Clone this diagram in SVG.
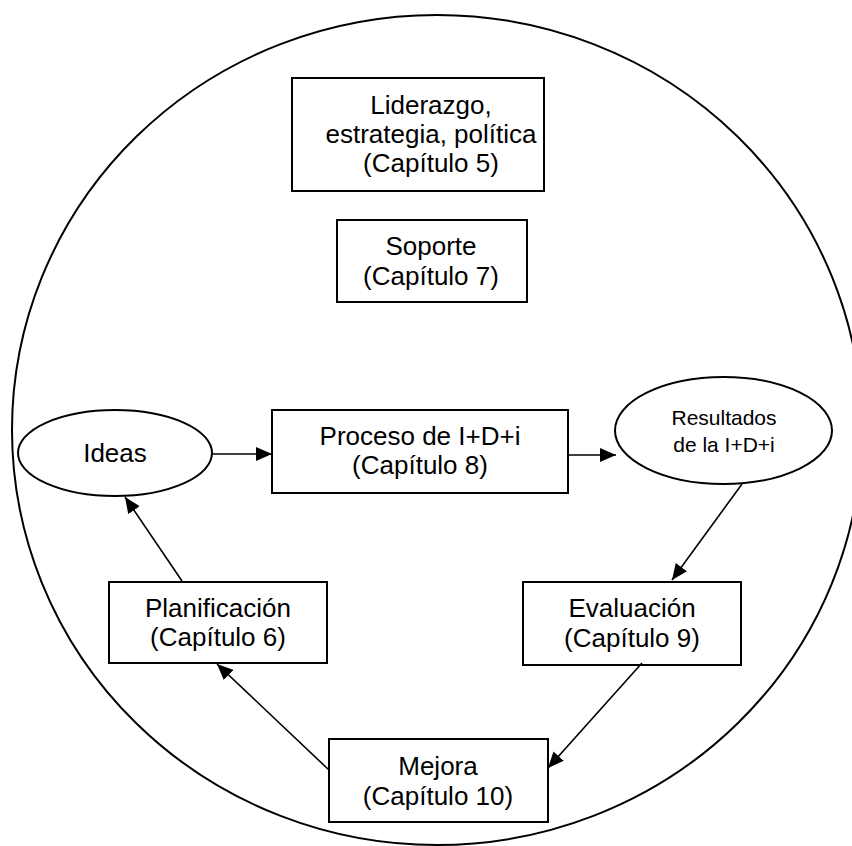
<svg xmlns="http://www.w3.org/2000/svg" width="852" height="846" viewBox="0 0 852 846">
<style>
.shape{fill:#fff;stroke:#000;stroke-width:2}
.frame{fill:none;stroke:#000;stroke-width:2}
.t{font-family:"Liberation Sans",Arial,sans-serif;font-size:26px;fill:#000;text-anchor:middle}
.ts{font-family:"Liberation Sans",Arial,sans-serif;font-size:21px;fill:#000;text-anchor:middle}
.c{stroke:#000;stroke-width:1.6;fill:none;marker-end:url(#ah)}
</style>
<defs>
<marker id="ah" viewBox="0 0 16 14" markerWidth="16" markerHeight="14" markerUnits="userSpaceOnUse" refX="16" refY="7" orient="auto">
<path d="M0,0 L16,7 L0,14 Z" fill="#000"/>
</marker>
</defs>
<rect width="852" height="846" fill="#fff"/>
<ellipse id="cycle" class="frame" cx="437" cy="430" rx="425" ry="415"/>
<g id="liderazgo">
<rect class="shape" x="292" y="78" width="252" height="113"/>
<text class="t" x="431" y="114">Liderazgo,</text>
<text class="t" x="431" y="143">estrategia, política</text>
<text class="t" x="431" y="172">(Capítulo 5)</text>
</g>
<g id="soporte">
<rect class="shape" x="337" y="220" width="190" height="82"/>
<text class="t" x="431" y="255">Soporte</text>
<text class="t" x="431" y="285">(Capítulo 7)</text>
</g>
<g id="ideas">
<ellipse class="shape" cx="115" cy="453" rx="97" ry="43"/>
<text class="t" x="115" y="462">Ideas</text>
</g>
<g id="proceso">
<rect class="shape" x="272" y="410" width="296" height="83"/>
<text class="t" x="420" y="445">Proceso de I+D+i</text>
<text class="t" x="420" y="474">(Capítulo 8)</text>
</g>
<g id="resultados">
<ellipse class="shape" cx="723.5" cy="430.5" rx="108.5" ry="53.5"/>
<text class="ts" x="724" y="425">Resultados</text>
<text class="ts" x="724" y="452">de la I+D+i</text>
</g>
<g id="evaluacion">
<rect class="shape" x="523" y="582" width="218" height="83"/>
<text class="t" x="632" y="617">Evaluación</text>
<text class="t" x="632" y="647">(Capítulo 9)</text>
</g>
<g id="mejora">
<rect class="shape" x="329" y="739" width="219" height="83"/>
<text class="t" x="438" y="775">Mejora</text>
<text class="t" x="438" y="805">(Capítulo 10)</text>
</g>
<g id="planificacion">
<rect class="shape" x="109" y="582" width="218" height="81"/>
<text class="t" x="218" y="617">Planificación</text>
<text class="t" x="218" y="646">(Capítulo 6)</text>
</g>
<g id="connectors">
<line class="c" x1="212" y1="454" x2="272" y2="454"/>
<line class="c" x1="568" y1="455" x2="616" y2="455"/>
<line class="c" x1="742" y1="484" x2="672" y2="580"/>
<line class="c" x1="642" y1="663" x2="548" y2="768"/>
<line class="c" x1="329" y1="770" x2="217" y2="664"/>
<line class="c" x1="182" y1="581" x2="125" y2="497"/>
</g>
</svg>
